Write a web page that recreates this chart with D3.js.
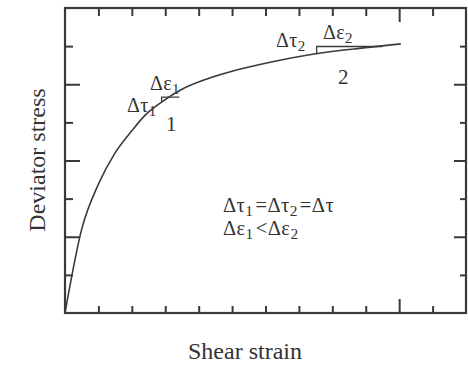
<!DOCTYPE html>
<html>
<head>
<meta charset="utf-8">
<script src="https://cdn.jsdelivr.net/npm/d3@7"></script>
<style>
  body { margin: 0; background: #fff; }
  svg text { font-family: "Liberation Serif", "DejaVu Serif", serif; fill: #333; }
</style>
</head>
<body>
<div class="graph"></div>
<script>
// curve (x in tick units of strain, y in tick units of stress)
var strain = [0, 0.5, 1.0, 1.5, 2.0, 2.4, 2.9, 3.5, 4.25, 5.0, 6.0, 7.5, 9.0, 10.05]
var stress = [0, 2.2, 3.38, 4.2, 4.78, 5.19, 5.54, 5.87, 6.14, 6.34, 6.55, 6.8, 6.96, 7.06]

// the two slope triangles
var tri1 = [[2.89, 5.54], [2.89, 5.66], [3.42, 5.66]]
var tri2 = [[7.53, 6.79], [7.53, 6.99], [9.5, 6.99]]

var xTicks = d3.range(1, 12)
var yTicks = d3.range(1, 8)
var yMajor = [2, 4, 6]

var width = 468,
    height = 367

var x = d3.scaleLinear()
    .domain([0, 12])
    .range([65, 466])

var y = d3.scaleLinear()
    .domain([0, 8])
    .range([313, 8])

var svg = d3.select('.graph').append('svg')
    .attr('width', width)
    .attr('height', height)

var ink = '#3a3a3a'

function styleAxis(g) {
    g.select('.domain').remove()
    g.selectAll('.tick line')
	.attr('stroke', ink)
	.attr('stroke-width', 2)
}

// bottom, ticks pointing up
svg.append('g')
    .attr('transform', `translate(0,${y(0)})`)
    .call(d3.axisTop(x).tickValues(xTicks).tickSize(7).tickFormat(''))
    .call(styleAxis)
    .selectAll('.tick line')
    .attr('y2', d => d == 10 ? -14 : -7)

// top, ticks pointing down
svg.append('g')
    .attr('transform', `translate(0,${y(8)})`)
    .call(d3.axisBottom(x).tickValues(xTicks).tickSize(8).tickFormat(''))
    .call(styleAxis)
    .selectAll('.tick line')
    .attr('y2', d => d == 10 ? 14 : 8)

// left, ticks pointing right
svg.append('g')
    .attr('transform', `translate(${x(0)},0)`)
    .call(d3.axisRight(y).tickValues(yTicks).tickSize(8).tickFormat(''))
    .call(styleAxis)
    .selectAll('.tick line')
    .attr('x2', d => yMajor.includes(d) ? 15 : 8)

// right, ticks pointing left
svg.append('g')
    .attr('transform', `translate(${x(12)},0)`)
    .call(d3.axisLeft(y).tickValues(yTicks).tickSize(6).tickFormat(''))
    .call(styleAxis)
    .selectAll('.tick line')
    .attr('x2', d => yMajor.includes(d) ? -12 : -6)

svg.append('rect')
    .attr('x', x(0))
    .attr('y', y(8))
    .attr('width', x(12) - x(0))
    .attr('height', y(0) - y(8))
    .attr('fill', 'none')
    .attr('stroke', ink)
    .attr('stroke-width', 2.2)

var line = d3.line()
    .x(d => x(d[0]))
    .y(d => y(d[1]))

svg.append('path')
    .datum(strain.map((s, i) => [s, stress[i]]))
    .attr('d', line.curve(d3.curveMonotoneX))
    .attr('fill', 'none')
    .attr('stroke', ink)
    .attr('stroke-width', 1.6)

var legLine = d3.line()
    .x(d => x(d[0]))
    .y(d => y(d[1]))

for (let t of [tri1, tri2]) {
    svg.append('path')
	.datum(t)
	.attr('d', legLine)
	.attr('fill', 'none')
	.attr('stroke', ink)
	.attr('stroke-width', 1.3)
}

// text with a subscript digit
function label(px, py, parts, size) {
    var t = svg.append('text')
	.attr('x', px)
	.attr('y', py)
	.style('font-size', size + 'px')
	.style('letter-spacing', '0.4px')
    for (let p of parts) {
	if (p.sub) {
	    t.append('tspan')
		.attr('dy', size * 0.2)
		.style('font-size', (size * 0.75) + 'px')
		.text(p.sub)
	    t.append('tspan')
		.attr('dy', -size * 0.2)
		.text('\u200a')
	} else {
	    t.append('tspan').text(p.t)
	}
    }
    return t
}

label(150, 90, [{t: 'Δε'}, {sub: '1'}], 20)
label(127, 112, [{t: 'Δτ'}, {sub: '1'}], 20)
label(166, 131, [{t: '1'}], 21)

label(276, 47, [{t: 'Δτ'}, {sub: '2'}], 20)
label(323, 39, [{t: 'Δε'}, {sub: '2'}], 20)
label(338, 84, [{t: '2'}], 21)

label(223, 212, [{t: 'Δτ'}, {sub: '1'}, {t: '=Δτ'}, {sub: '2'}, {t: '=Δτ'}], 20.5)
label(223, 235, [{t: 'Δε'}, {sub: '1'}, {t: '<Δε'}, {sub: '2'}], 20.5)

svg.append('text')
    .attr('x', 245)
    .attr('y', 359)
    .attr('text-anchor', 'middle')
    .style('font-size', '24px')
    .text('Shear strain')

svg.append('text')
    .attr('transform', 'translate(45,160) rotate(-90)')
    .attr('text-anchor', 'middle')
    .style('font-size', '24px')
    .text('Deviator stress')
</script>
</body>
</html>
